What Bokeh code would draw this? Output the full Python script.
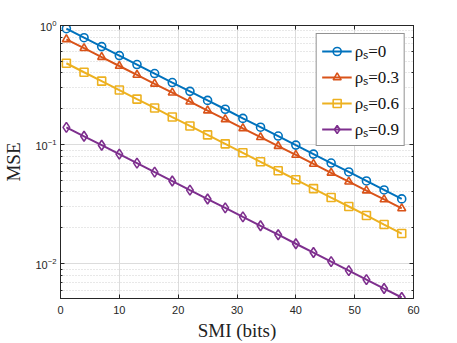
from bokeh.plotting import figure
from bokeh.models import (Range1d, FixedTicker, LinearAxis, LogAxis, Legend, LegendItem,
                          CustomJSTickFormatter)
from bokeh.embed import file_html
from bokeh.resources import INLINE

smi = [1, 4, 7, 10, 13, 16, 19, 22, 25, 28, 31, 34, 37, 40, 43, 46, 49, 52, 55, 58]
mse_rho0 = [0.94, 0.790, 0.665, 0.559, 0.470, 0.395, 0.332, 0.280, 0.235, 0.198,
            0.166, 0.140, 0.118, 0.0990, 0.0832, 0.0700, 0.0589, 0.0495, 0.0416, 0.0350]
mse_rho03 = [0.766, 0.645, 0.543, 0.457, 0.385, 0.324, 0.273, 0.2295, 0.193, 0.163,
             0.137, 0.1153, 0.0971, 0.0818, 0.0688, 0.0579, 0.0488, 0.0411, 0.0346, 0.0291]
mse_rho06 = [0.482, 0.405, 0.341, 0.287, 0.241, 0.203, 0.1704, 0.1434, 0.1206, 0.1014,
             0.0853, 0.0717, 0.0603, 0.0507, 0.0427, 0.0359, 0.0302, 0.0254, 0.0213, 0.0179]
mse_rho09 = [0.1396, 0.1174, 0.0988, 0.0831, 0.0699, 0.0587, 0.0494, 0.0415, 0.0349, 0.0294,
             0.0247, 0.0208, 0.0175, 0.0147, 0.0124, 0.0104, 0.00874, 0.00735, 0.00618, 0.0052]
labels = ["\u03c1\u209b=0", "\u03c1\u209b=0.3", "\u03c1\u209b=0.6", "\u03c1\u209b=0.9"]
x_ticks = [0, 10, 20, 30, 40, 50, 60]

colors = ["#0072BD", "#D95319", "#EDB120", "#7E2F8E"]
markers = ["circle", "triangle", "square", "diamond"]
series = [mse_rho0, mse_rho03, mse_rho06, mse_rho09]

axis_col = "#262626"
p = figure(width=449, height=343, y_axis_type="log", output_backend="svg",
           toolbar_location=None, x_range=Range1d(0, 60), y_range=Range1d(0.0051, 1),
           min_border_left=59, min_border_right=36, min_border_top=25, min_border_bottom=40)
p.outline_line_color = axis_col
p.background_fill_color = "white"

items = []
for ys, c, m, lab in zip(series, colors, markers, labels):
    r1 = p.line(smi, ys, line_color=c, line_width=2)
    r2 = p.scatter(smi, ys, marker=m, size=8 if m != "diamond" else 10,
                   line_color=c, line_width=1.6, fill_color="white", fill_alpha=0)
    items.append(LegendItem(label=lab, renderers=[r1, r2]))

p.xaxis.ticker = FixedTicker(ticks=x_ticks)
for ax in [p.xaxis[0], p.yaxis[0]]:
    ax.axis_line_color = axis_col
    ax.major_tick_line_color = axis_col
    ax.minor_tick_line_color = axis_col
    ax.major_tick_in = 4
    ax.major_tick_out = 0
    ax.minor_tick_in = 2
    ax.minor_tick_out = 0
    ax.major_label_text_font = "Liberation Sans"
    ax.major_label_text_font_size = "11px"
    ax.major_label_text_color = axis_col
    ax.axis_label_text_font = "Liberation Serif"
    ax.axis_label_text_font_size = "19px"
    ax.axis_label_text_font_style = "normal"
    ax.axis_label_text_color = "#222222"
p.xaxis.axis_label = "SMI (bits)"
p.yaxis.axis_label = "MSE"
p.xaxis.major_label_standoff = 7
p.xaxis.axis_label_standoff = 3
p.yaxis.major_label_standoff = 4
p.yaxis.axis_label_standoff = 8

blank = CustomJSTickFormatter(code="return ''")
top = LinearAxis(ticker=FixedTicker(ticks=x_ticks), formatter=blank,
                 major_tick_in=4, major_tick_out=0, minor_tick_in=0, minor_tick_out=0,
                 axis_line_color=axis_col, major_tick_line_color=axis_col, major_label_standoff=0)
right = LogAxis(formatter=CustomJSTickFormatter(code="return ''"), major_tick_in=4, major_tick_out=0,
                minor_tick_in=2, minor_tick_out=0, axis_line_color=axis_col,
                major_tick_line_color=axis_col, minor_tick_line_color=axis_col, major_label_standoff=0)
p.add_layout(top, "above")
p.add_layout(right, "right")

p.xgrid.grid_line_color = "#dcdcdc"
p.ygrid.grid_line_color = "#dcdcdc"
p.ygrid.minor_grid_line_color = "#d0d0d0"
p.ygrid.minor_grid_line_dash = "1 2"

legend = Legend(items=items, location="top_right")
legend.label_text_font = "Liberation Serif"
legend.label_text_font_size = "17px"
legend.label_text_color = "#111111"
legend.glyph_width = 30
legend.glyph_height = 20
legend.label_height = 20
legend.label_standoff = 3
legend.spacing = 3
legend.padding = 5
legend.margin = 8
legend.border_line_color = axis_col
legend.border_line_width = 1
legend.background_fill_alpha = 1
p.add_layout(legend)

open("out.html", "w").write(file_html(p, INLINE))
